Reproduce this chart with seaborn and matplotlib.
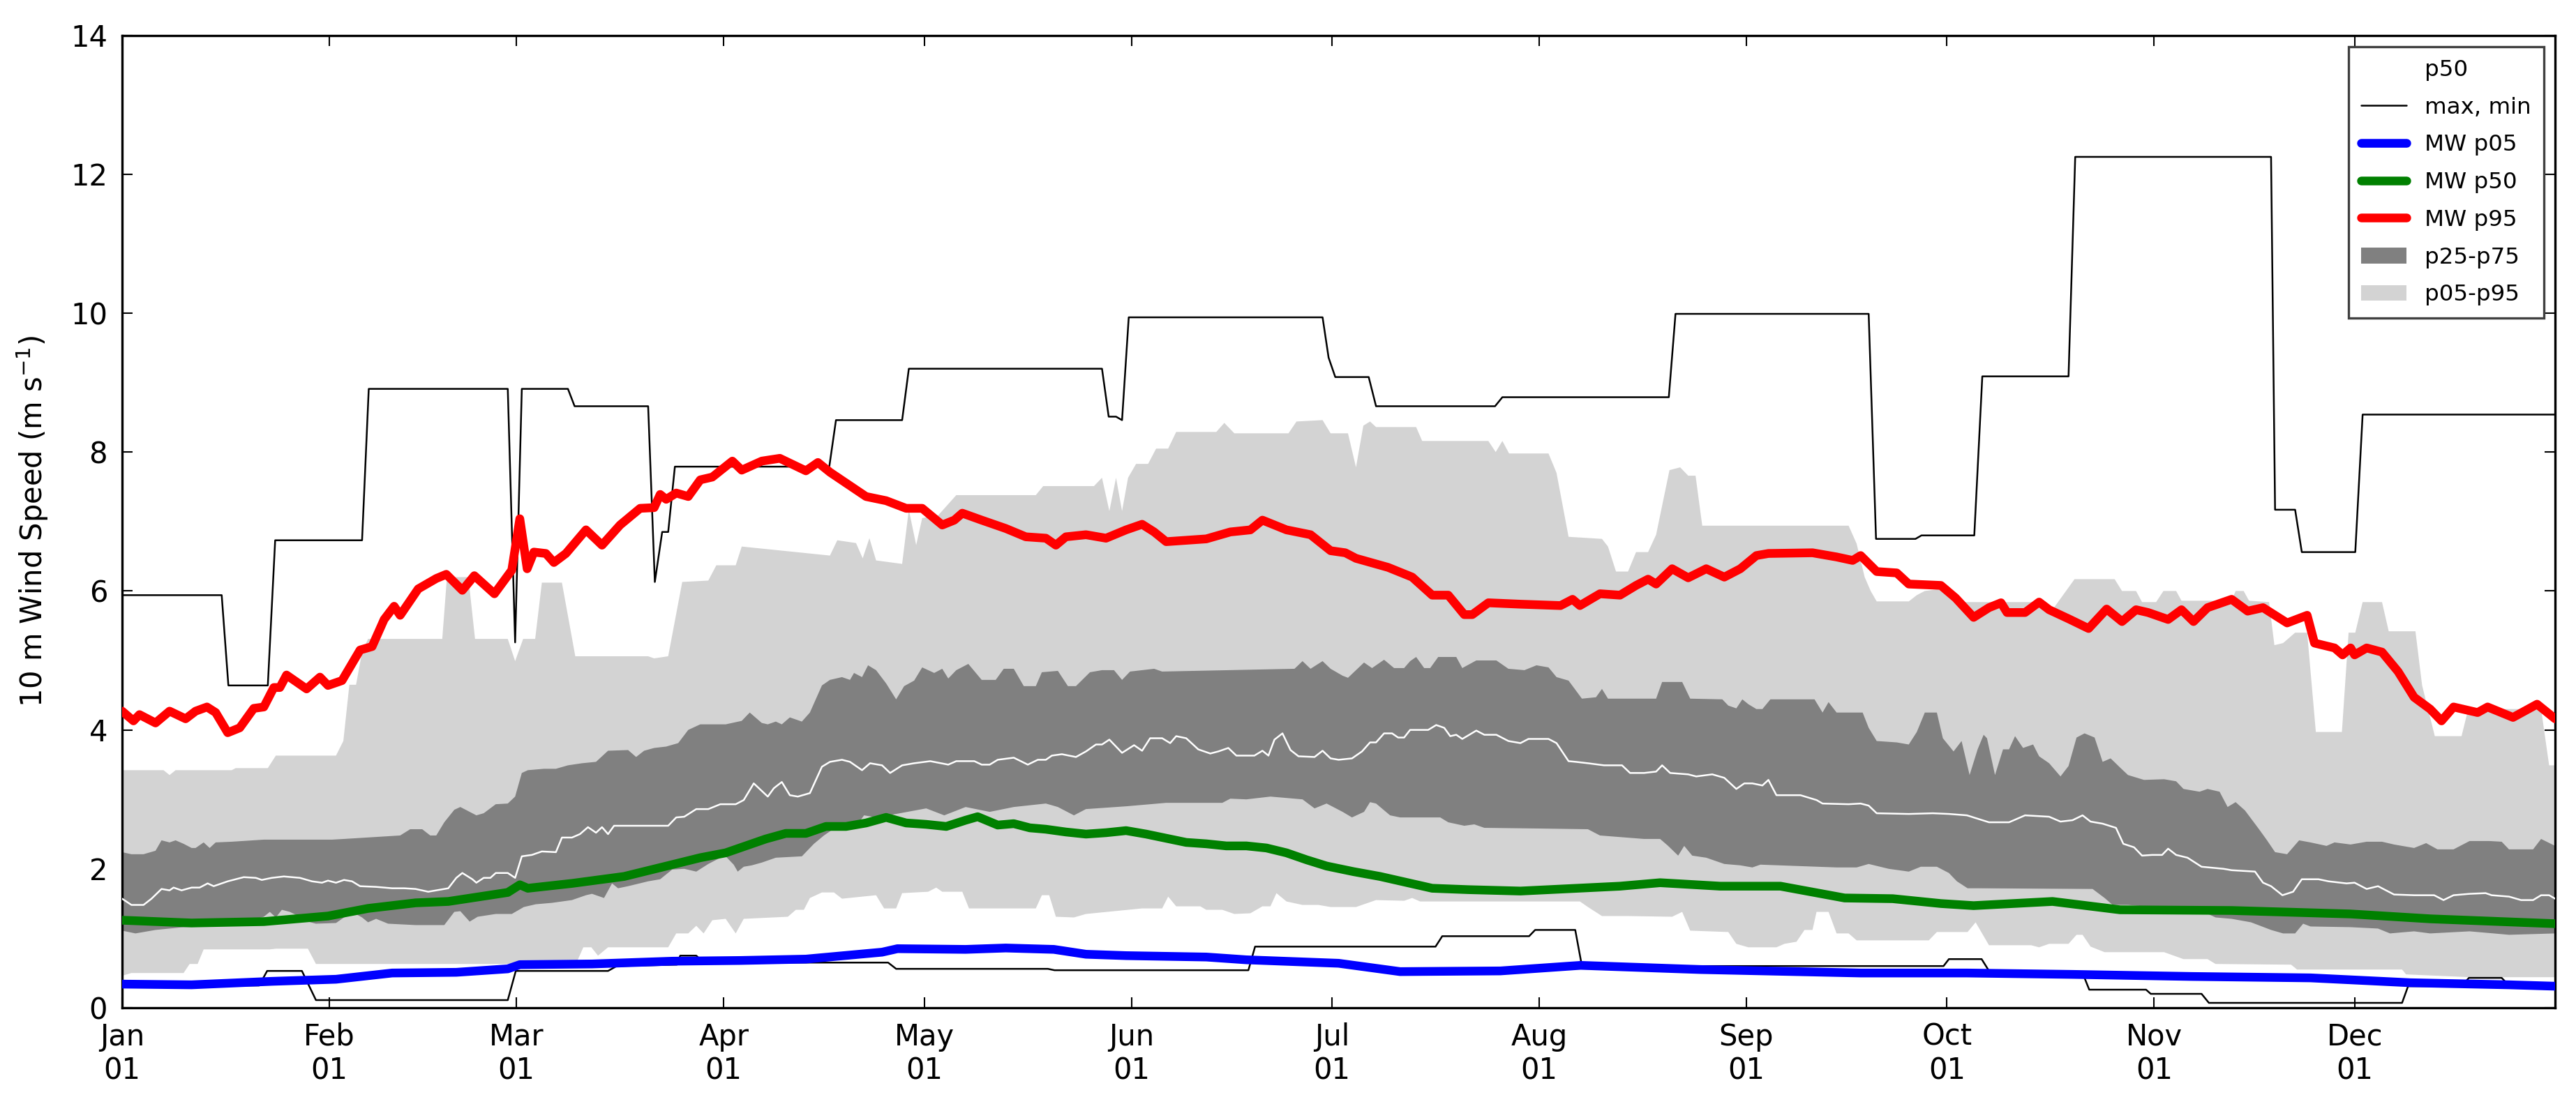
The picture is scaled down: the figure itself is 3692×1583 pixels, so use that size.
import numpy as np
import pandas as pd
import matplotlib
matplotlib.use("Agg")
import matplotlib.pyplot as plt
import matplotlib.dates as mdates
from matplotlib.lines import Line2D
from matplotlib.patches import Patch
import seaborn as sns

YEAR_START = pd.Timestamp("2015-01-01")

# every series: (days since Jan 01, wind speed m/s)

wind_max = [(0, 5.94), (14.9, 5.94), (15.9, 4.64), (21.8, 4.64), (22.9, 6.73), (35.9, 6.73),
            (36.9, 8.91), (57.7, 8.91), (58.8, 5.26), (59.8, 8.91), (66.7, 8.91), (67.7, 8.66),
            (78.7, 8.66), (79.7, 6.13), (80.8, 6.85), (81.7, 6.85), (82.7, 7.79), (105.8, 7.79),
            (106.8, 8.46), (116.7, 8.46), (117.7, 9.2), (146.6, 9.2), (147.6, 8.51), (148.7, 8.51),
            (149.6, 8.46), (150.6, 9.94), (179.6, 9.94), (180.5, 9.36), (181.5, 9.08), (186.5, 9.08),
            (187.6, 8.66), (205.4, 8.66), (206.5, 8.79), (231.4, 8.79), (232.4, 9.99), (261.3, 9.99),
            (262.4, 6.75), (268.3, 6.75), (269.2, 6.8), (277.1, 6.8), (278.3, 9.09), (291.2, 9.09),
            (292.2, 12.25), (321.5, 12.25), (322.1, 7.17), (325.1, 7.17), (326.1, 6.56), (334.1, 6.56),
            (335.2, 8.54), (364, 8.54)]

wind_min = [(0, 0.32), (20.5, 0.32), (21.7, 0.53), (26.9, 0.53), (29.0, 0.11), (57.7, 0.11),
            (58.9, 0.53), (72.7, 0.53), (74, 0.6), (83, 0.62), (83.5, 0.75), (85.9, 0.75),
            (87, 0.65), (114.6, 0.65), (115.8, 0.56), (138.5, 0.56), (139.5, 0.54), (168.5, 0.54),
            (169.5, 0.88), (196.5, 0.88), (197.5, 1.03), (210.5, 1.03), (211.4, 1.12), (217.4, 1.12),
            (218.4, 0.6), (272.5, 0.6), (273.3, 0.7), (278.2, 0.7), (279.5, 0.5), (293.3, 0.5),
            (294.3, 0.26), (302.8, 0.26), (303.5, 0.2), (311.1, 0.2), (312.2, 0.07), (341.1, 0.07),
            (342, 0.31), (350, 0.31), (351.1, 0.43), (356, 0.43), (357, 0.33), (364, 0.33)]

mw_p05 = [(0, 0.34), (10.4, 0.33), (22.4, 0.38), (32, 0.41), (40.4, 0.5), (50, 0.51), (57.7, 0.56),
          (59.5, 0.62), (70.3, 0.63), (82.3, 0.67), (92.4, 0.68), (102.3, 0.7), (113.7, 0.8),
          (116, 0.85), (126.2, 0.84), (132.2, 0.86), (139.4, 0.84), (144.2, 0.77), (150.2, 0.75),
          (162.2, 0.73), (168.2, 0.69), (182, 0.64), (191.2, 0.52), (206.2, 0.53), (218.2, 0.61),
          (236.1, 0.55), (260.1, 0.5), (276, 0.5), (291.8, 0.48), (309.6, 0.45), (327.4, 0.43),
          (342.3, 0.36), (357.1, 0.33), (364, 0.31)]

mw_p50 = [(0, 1.26), (10.4, 1.22), (21.2, 1.24), (30.8, 1.32), (36.8, 1.43), (43.9, 1.51),
          (48.8, 1.53), (57.7, 1.66), (59.5, 1.77), (60.7, 1.72), (67.3, 1.79), (75.1, 1.89),
          (82.3, 2.06), (86.5, 2.16), (90.3, 2.23), (93.3, 2.33), (96.3, 2.43), (99.3, 2.51),
          (102.3, 2.51), (105.3, 2.61), (108.3, 2.61), (111.3, 2.66), (114.3, 2.74), (117.3, 2.66),
          (120.3, 2.64), (123.3, 2.61), (126.2, 2.7), (128, 2.75), (131, 2.63), (133.4, 2.65),
          (135.8, 2.59), (138.2, 2.57), (141.2, 2.53), (144.2, 2.5), (147.2, 2.52), (150.2, 2.55),
          (153.2, 2.5), (156.2, 2.44), (159.2, 2.38), (162.2, 2.36), (165.2, 2.33), (168.2, 2.33),
          (171.2, 2.3), (174.2, 2.23), (177.2, 2.13), (180.2, 2.04), (184.2, 1.96),
          (188.2, 1.89), (196, 1.72), (201.4, 1.7), (209.2, 1.68), (224.1, 1.75), (230.1, 1.8),
          (239.1, 1.75), (248.1, 1.75), (257.7, 1.58), (264.9, 1.57), (272.1, 1.5), (277, 1.47),
          (288.8, 1.53), (298.9, 1.41), (315.6, 1.4), (333.4, 1.35), (345.3, 1.28), (364, 1.21)]

mw_p95 = [(0, 4.27), (1.7, 4.13), (2.6, 4.22), (5, 4.1), (7.1, 4.27), (9.5, 4.16), (11, 4.27),
          (12.7, 4.33), (14, 4.25), (15.8, 3.96), (17.6, 4.03), (19.7, 4.31), (21.2, 4.33),
          (22.7, 4.61), (23.6, 4.61), (24.6, 4.79), (27.6, 4.59), (29.6, 4.76), (30.8, 4.64),
          (32.9, 4.71), (35.6, 5.15), (37.4, 5.2), (39.2, 5.59), (40.7, 5.78), (41.6, 5.65),
          (44.3, 6.03), (47, 6.18), (48.5, 6.24), (50.9, 6.01), (52.7, 6.22), (55.7, 5.96),
          (58.3, 6.3), (59.5, 7.04), (60.6, 6.32), (61.6, 6.56), (63.4, 6.54), (64.6, 6.41),
          (66.4, 6.54), (69.4, 6.88), (71.8, 6.66), (74.5, 6.95), (77.5, 7.19), (79.6, 7.2),
          (80.5, 7.39), (81.4, 7.32), (82.9, 7.41), (84.7, 7.36), (86.5, 7.6), (88.3, 7.64),
          (91.3, 7.87), (92.7, 7.74), (95.7, 7.87), (98.4, 7.91), (102.3, 7.73), (104.1, 7.85),
          (105.9, 7.71), (111.3, 7.36), (114.3, 7.3), (117.3, 7.19), (119.7, 7.19), (122.7, 6.95),
          (124.5, 7.02), (125.7, 7.12), (128.6, 7.02), (132.2, 6.9), (135.2, 6.78), (138.2, 6.76),
          (139.7, 6.66), (141.2, 6.78), (144.2, 6.81), (147.2, 6.76), (150.2, 6.88), (152.6, 6.96),
          (154.4, 6.85), (156.2, 6.71), (162.2, 6.75), (165.8, 6.85), (168.8, 6.88), (170.6, 7.02),
          (174.2, 6.88), (177.8, 6.81), (180.8, 6.58), (183, 6.55), (184.6, 6.47), (189.4, 6.34),
          (193, 6.2), (196, 5.94), (198.4, 5.94), (200.8, 5.66), (202, 5.66), (204.4, 5.83),
          (209.2, 5.81), (215.2, 5.79), (217, 5.88), (218.1, 5.79), (221.1, 5.96), (224.1, 5.94),
          (226.5, 6.08), (228.3, 6.17), (229.5, 6.1), (231.9, 6.32), (234.3, 6.19), (237, 6.32),
          (239.7, 6.2), (242.1, 6.32), (244.5, 6.51), (246.3, 6.54), (252.9, 6.55), (256.5, 6.49),
          (258.9, 6.44), (260.1, 6.51), (262.5, 6.28), (265.5, 6.26), (267.3, 6.1), (272.1, 6.08),
          (274.3, 5.9), (277, 5.62), (279.3, 5.76), (281.1, 5.83), (282, 5.69), (284.7, 5.69),
          (286.8, 5.84), (288.3, 5.73), (291.2, 5.6), (294.2, 5.46), (296.9, 5.74), (299.2, 5.56),
          (301.3, 5.73), (303.1, 5.69), (306.1, 5.59), (308.1, 5.73), (309.9, 5.56), (312, 5.76),
          (315.6, 5.88), (318, 5.71), (320.3, 5.76), (323.9, 5.54), (326.9, 5.65), (328, 5.25),
          (331, 5.18), (332.2, 5.08), (333.4, 5.18), (334, 5.08), (335.8, 5.18), (338.1, 5.12),
          (340.5, 4.84), (342.9, 4.47), (345.3, 4.3), (347, 4.13), (348.8, 4.33), (352.4, 4.25),
          (353.9, 4.33), (357.7, 4.18), (361.3, 4.37), (364, 4.16)]

p95 = [(0, 3.42), (6.2, 3.42), (7.1, 3.35), (8, 3.42), (16.4, 3.42), (17, 3.45), (21.8, 3.45),
       (23, 3.63), (32, 3.63), (33.1, 3.84), (34, 4.65), (35, 4.65), (35.9, 5.12), (36.8, 5.31),
       (47.9, 5.31), (48.6, 6.2), (51.8, 6.2), (52.8, 5.31), (57.7, 5.31), (58.8, 4.99), (60, 5.31),
       (61.8, 5.31), (62.8, 6.12), (65.8, 6.12), (67.8, 5.06), (78.7, 5.06), (79.6, 5.03),
       (81.7, 5.06), (83.8, 6.13), (87.7, 6.15), (88.9, 6.37), (91.8, 6.37), (92.7, 6.64),
       (105.9, 6.51), (107, 6.73), (109.8, 6.69), (110.8, 6.47), (111.8, 6.76), (112.8, 6.44),
       (116.7, 6.39), (117.7, 7.17), (118.8, 6.66), (119.7, 7.05), (122.1, 7.09), (124.8, 7.38),
       (136.7, 7.38), (137.8, 7.51), (145.4, 7.51), (146.6, 7.63), (147.7, 7.15), (148.7, 7.63),
       (149.6, 7.15), (150.5, 7.63), (151.7, 7.83), (153.5, 7.83), (154.7, 8.05), (156.5, 8.05),
       (157.7, 8.29), (163.7, 8.29), (164.9, 8.42), (166.4, 8.27), (174.5, 8.27), (175.7, 8.44),
       (179.6, 8.46), (180.8, 8.27), (183.4, 8.27), (184.6, 7.78), (185.7, 8.38), (186.7, 8.44),
       (187.6, 8.36), (193.6, 8.36), (194.5, 8.16), (204.4, 8.16), (205.5, 8.0), (206.5, 8.16),
       (207.5, 7.98), (213.4, 7.98), (214.6, 7.7), (216.4, 6.78), (221.4, 6.75), (222.3, 6.64),
       (223.5, 6.28), (225.3, 6.28), (226.5, 6.56), (228.3, 6.56), (229.5, 6.81), (231.5, 7.74),
       (233.1, 7.78), (234.3, 7.66), (235.4, 7.66), (236.4, 6.94), (258.3, 6.94), (259.5, 6.68),
       (260.7, 6.2), (261.6, 6.0), (262.5, 5.85), (267.3, 5.85), (268.5, 5.94), (269.7, 6.0),
       (272.1, 6.03), (274, 5.84), (287.7, 5.84), (288.8, 5.73), (292.1, 6.17), (298.1, 6.17),
       (299.2, 6.0), (301.3, 6.0), (302.2, 5.84), (304.3, 5.84), (305.4, 6.0), (307.3, 6.0),
       (308.1, 5.86), (315.6, 5.86), (316.2, 6.0), (317.4, 6.0), (318.2, 5.86), (321.2, 5.84),
       (322, 5.22), (323.3, 5.25), (325.1, 5.4), (326.9, 5.4), (328.2, 3.97), (332.1, 3.97),
       (333.1, 5.4), (334.1, 5.4), (335.2, 5.84), (338.1, 5.84), (339.1, 5.42), (343.1, 5.42),
       (344.1, 4.64), (346, 3.91), (350, 3.91), (351, 4.3), (361.9, 4.3), (363.1, 3.49), (364, 3.49)]

p05 = [(0, 0.46), (1.4, 0.5), (9.2, 0.5), (10.1, 0.63), (11.3, 0.63), (12.2, 0.84), (22.1, 0.84),
       (23, 0.85), (27.8, 0.85), (29, 0.63), (67.9, 0.63), (69, 0.87), (70.2, 0.87), (71.2, 0.75),
       (72.7, 0.87), (81.7, 0.87), (82.9, 1.07), (84.7, 1.07), (85.9, 1.18), (87, 1.07),
       (88.3, 1.26), (90.3, 1.28), (91.8, 1.07), (93, 1.28), (99.6, 1.31), (100.8, 1.41),
       (102, 1.41), (102.9, 1.58), (104.7, 1.66), (106.5, 1.66), (107.7, 1.57), (112.8, 1.62),
       (114, 1.43), (115.8, 1.43), (116.7, 1.65), (120.6, 1.67), (121.8, 1.73), (122.7, 1.67),
       (125.7, 1.67), (126.7, 1.43), (136.7, 1.43), (137.6, 1.62), (138.7, 1.62), (139.7, 1.31),
       (142.4, 1.3), (144.2, 1.35), (152.6, 1.43), (155.6, 1.43), (156.5, 1.6), (157.7, 1.46),
       (161.3, 1.46), (162.2, 1.41), (164.6, 1.41), (166.4, 1.35), (168.8, 1.36), (170.6, 1.46),
       (171.8, 1.46), (172.7, 1.65), (174.2, 1.53), (176.6, 1.48), (179, 1.48), (180.8, 1.45),
       (184.6, 1.45), (187.6, 1.55), (191.8, 1.54), (193, 1.58), (194.2, 1.53), (218.1, 1.53),
       (219.3, 1.45), (221.4, 1.32), (225.3, 1.32), (231.9, 1.31), (233.4, 1.38), (234.6, 1.11),
       (240.3, 1.09), (241.5, 0.92), (243.3, 0.87), (247.5, 0.87), (248.7, 0.92), (250.5, 0.95),
       (251.7, 1.12), (252.9, 1.12), (253.5, 1.38), (255.3, 1.38), (256.5, 1.07), (258.3, 1.07),
       (259.5, 0.97), (270.3, 0.97), (271.5, 1.09), (276.1, 1.09), (277.3, 1.23), (279.3, 0.9),
       (285.6, 0.9), (286.8, 0.87), (288.3, 0.92), (291.2, 0.92), (292.4, 1.05), (293.3, 1.05),
       (294.5, 0.88), (296.6, 0.8), (305.5, 0.8), (308.4, 0.7), (312, 0.7), (313.2, 0.63),
       (324.5, 0.62), (325.4, 0.55), (341.1, 0.55), (341.7, 0.48), (351.2, 0.44), (364, 0.44)]

p75 = [(0, 2.24), (1.4, 2.21), (3.2, 2.21), (5, 2.26), (5.9, 2.41), (7.1, 2.38), (8, 2.41),
       (9.2, 2.36), (10.4, 2.3), (11, 2.3), (12.2, 2.38), (13.1, 2.3), (14, 2.38), (16.4, 2.39),
       (21.2, 2.42), (31.4, 2.42), (33.2, 2.43), (41.6, 2.48), (43.1, 2.57), (44.9, 2.57),
       (46.1, 2.48), (47, 2.48), (48.2, 2.67), (49.7, 2.85), (50.6, 2.89), (51.8, 2.83), (53, 2.77),
       (54.1, 2.8), (55.9, 2.93), (57.7, 2.94), (58.8, 3.04), (59.8, 3.38), (60.7, 3.42),
       (63.1, 3.44), (64.9, 3.44), (66.7, 3.49), (68.8, 3.52), (70.9, 3.54), (72.7, 3.7),
       (75.7, 3.71), (76.9, 3.61), (78.1, 3.7), (79.6, 3.74), (81.4, 3.76), (83.2, 3.81),
       (84.7, 4.0), (86.5, 4.08), (90.3, 4.08), (92.7, 4.13), (93.9, 4.25), (95.7, 4.1),
       (96.6, 4.08), (97.8, 4.12), (98.7, 4.08), (99.9, 4.18), (101.7, 4.12), (102.9, 4.25),
       (104.7, 4.64), (105.9, 4.72), (107.7, 4.76), (108.9, 4.72), (109.5, 4.82), (110.7, 4.76),
       (111.6, 4.93), (112.8, 4.86), (114.3, 4.67), (115.8, 4.44), (117, 4.63), (118.5, 4.71),
       (119.7, 4.9), (121.5, 4.82), (122.7, 4.88), (123.6, 4.74), (124.8, 4.86), (126.6, 4.95),
       (128.6, 4.72), (130.7, 4.72), (131.9, 4.88), (133.4, 4.88), (134.9, 4.63), (136.7, 4.63),
       (137.6, 4.83), (140, 4.85), (141.5, 4.63), (142.7, 4.63), (144.8, 4.83), (146.6, 4.86),
       (148.4, 4.86), (149.6, 4.72), (150.8, 4.84), (154.4, 4.88), (155.6, 4.84), (175.4, 4.88),
       (176.6, 4.99), (177.8, 4.88), (179.6, 4.99), (180.8, 4.88), (182.6, 4.78), (183.4, 4.75),
       (185.8, 4.97), (187, 4.89), (188.8, 5.01), (190.3, 4.89), (191.8, 4.89), (192.7, 4.99),
       (193.6, 5.05), (194.8, 4.89), (195.7, 4.89), (196.9, 5.05), (199.6, 5.05), (200.5, 4.89),
       (202.6, 5.0), (205.6, 5.0), (207.4, 4.88), (209.8, 4.86), (211.6, 4.93), (213.4, 4.9),
       (214.6, 4.76), (216.4, 4.71), (218.4, 4.45), (220.5, 4.47), (221.4, 4.59), (222.3, 4.45),
       (229.5, 4.45), (230.4, 4.69), (233.4, 4.69), (234.6, 4.45), (239.4, 4.44), (240.3, 4.35),
       (241.5, 4.31), (242.4, 4.44), (243.3, 4.37), (244.5, 4.3), (245.4, 4.3), (246.6, 4.44),
       (253.2, 4.44), (254.4, 4.25), (255.3, 4.4), (256.5, 4.25), (260.4, 4.25), (261.3, 4.03),
       (262.5, 3.84), (265.5, 3.82), (267.3, 3.79), (268.5, 3.97), (269.7, 4.25), (271.5, 4.25),
       (272.4, 3.88), (274, 3.69), (275.2, 3.84), (276.4, 3.35), (277.6, 3.72), (278.5, 3.93),
       (279, 3.88), (280.2, 3.35), (281.4, 3.72), (282.3, 3.72), (283.2, 3.91), (284.4, 3.74),
       (285.9, 3.79), (286.8, 3.62), (288.3, 3.52), (290, 3.33), (291.2, 3.48), (292.4, 3.89),
       (293.6, 3.95), (295.1, 3.89), (296.3, 3.54), (297.5, 3.59), (299, 3.45), (300.1, 3.35),
       (302.5, 3.28), (305.5, 3.29), (307.3, 3.26), (308.4, 3.15), (310.8, 3.11), (312, 3.15),
       (313.8, 3.11), (315, 2.89), (316.2, 2.96), (317.6, 2.84), (319.7, 2.57), (320.9, 2.41),
       (322.1, 2.24), (323.9, 2.21), (325.7, 2.41), (327.4, 2.38), (329.8, 2.33), (331, 2.38),
       (333.4, 2.35), (335.8, 2.39), (338.1, 2.39), (339.9, 2.35), (342.9, 2.3), (344.7, 2.37),
       (346.4, 2.28), (348.8, 2.28), (351.2, 2.4), (354.2, 2.4), (356, 2.39), (357.1, 2.28),
       (360.7, 2.28), (361.9, 2.43), (364, 2.33)]

p25 = [(0, 1.11), (2, 1.07), (5, 1.12), (9.2, 1.16), (13.4, 1.17), (16.4, 1.19), (21.2, 1.31),
       (22.1, 1.38), (23, 1.3), (23.9, 1.41), (25.1, 1.38), (26.6, 1.31), (27.8, 1.24), (29, 1.21),
       (32, 1.22), (34.4, 1.38), (35.9, 1.3), (36.8, 1.23), (38, 1.28), (39.8, 1.21), (43.9, 1.19),
       (48.2, 1.19), (49.7, 1.38), (50.6, 1.39), (52, 1.24), (53.2, 1.31), (55.9, 1.35),
       (58.3, 1.35), (60.1, 1.45), (61.9, 1.49), (64.3, 1.51), (67.3, 1.55), (69.4, 1.62),
       (70.3, 1.64), (72.1, 1.58), (73.3, 1.79), (74.2, 1.72), (75.7, 1.75), (78.7, 1.82),
       (80.5, 1.85), (82.3, 1.99), (84.1, 2.0), (85.9, 1.96), (87.7, 2.07), (89.5, 2.16),
       (90.3, 2.18), (91.5, 2.06), (92.1, 1.96), (93, 2.03), (94.2, 2.05), (95.7, 2.09),
       (97.8, 2.16), (101.7, 2.18), (103.5, 2.36), (105, 2.48), (106.8, 2.6), (109.5, 2.57),
       (111, 2.77), (112.8, 2.74), (115.8, 2.79), (120.3, 2.87), (123, 2.77), (126.2, 2.89),
       (129.8, 2.82), (133.4, 2.89), (138.2, 2.94), (140, 2.89), (142.4, 2.77), (144.2, 2.86),
       (150.2, 2.9), (156.2, 2.95), (164.6, 2.95), (165.8, 3.01), (168.2, 3.0), (171.8, 3.04),
       (176.6, 3.0), (178.4, 2.87), (180.2, 2.94), (182.6, 2.82), (184, 2.74), (185.8, 2.82),
       (186.7, 2.96), (187.6, 2.94), (189.7, 2.77), (191.2, 2.74), (197.2, 2.74), (198.4, 2.67),
       (200.8, 2.62), (202.3, 2.64), (203.8, 2.59), (212.2, 2.58), (219.3, 2.57), (221.1, 2.48),
       (227.7, 2.43), (230.1, 2.43), (231.3, 2.33), (232.8, 2.19), (233.7, 2.33), (234.9, 2.19),
       (237, 2.16), (239.7, 2.07), (242.1, 2.05), (243.9, 2.02), (245.1, 2.06), (256.5, 2.02),
       (259.5, 2.02), (261.3, 2.07), (264.3, 2.0), (267.3, 1.96), (269.1, 2.03), (271.5, 2.03),
       (273.3, 1.94), (274.5, 1.82), (276.1, 1.72), (277.6, 1.72), (294.8, 1.71), (296.6, 1.58),
       (297.8, 1.48), (300.1, 1.48), (303.7, 1.45), (309.6, 1.45), (311.4, 1.38), (313.2, 1.3),
       (315.6, 1.28), (318.5, 1.23), (321.5, 1.12), (323.3, 1.07), (325.1, 1.07), (326.3, 1.21),
       (327.4, 1.17), (333.4, 1.16), (337.5, 1.14), (339.3, 1.07), (342.9, 1.1), (345.3, 1.07),
       (351.2, 1.1), (354.8, 1.07), (357.1, 1.05), (364, 1.07)]

p50 = [(0, 1.57), (1.4, 1.48), (3.2, 1.48), (4.4, 1.57), (5.9, 1.71), (7.1, 1.69), (7.7, 1.73),
       (8.9, 1.69), (10.4, 1.73), (11.6, 1.73), (12.8, 1.79), (13.7, 1.75), (15.8, 1.82),
       (18.2, 1.88), (20, 1.87), (20.9, 1.84), (22.4, 1.87), (24.2, 1.89), (26.6, 1.87),
       (28.4, 1.82), (29.9, 1.8), (30.8, 1.83), (32, 1.8), (33.2, 1.84), (34.4, 1.82), (35.6, 1.75),
       (38, 1.74), (40.4, 1.72), (42.2, 1.72), (43.9, 1.71), (45.8, 1.67), (47.6, 1.7), (48.8, 1.72),
       (50, 1.87), (50.9, 1.94), (52.4, 1.85), (53, 1.8), (54.1, 1.87), (55.1, 1.87), (55.9, 1.94),
       (57.7, 1.94), (58.8, 1.87), (59.8, 2.18), (61.3, 2.2), (62.8, 2.25), (64.9, 2.24),
       (65.8, 2.45), (67.3, 2.45), (68.5, 2.5), (69.7, 2.6), (70.9, 2.52), (71.8, 2.6), (72.7, 2.5),
       (73.6, 2.62), (81.7, 2.62), (82.9, 2.74), (84.1, 2.75), (85.9, 2.86), (87.7, 2.86),
       (89.5, 2.93), (91.8, 2.93), (93, 2.99), (94.5, 3.23), (96.6, 3.04), (97.5, 3.16),
       (98.7, 3.25), (99.9, 3.06), (101.1, 3.04), (102.9, 3.09), (104.7, 3.47), (105.9, 3.54),
       (107.7, 3.57), (108.9, 3.54), (110.7, 3.42), (111.9, 3.52), (113.7, 3.49), (114.9, 3.38),
       (116.7, 3.49), (118.5, 3.52), (120.9, 3.55), (123.6, 3.5), (124.8, 3.55), (127.5, 3.55),
       (128.6, 3.5), (129.8, 3.5), (131, 3.57), (133.4, 3.6), (135.5, 3.5), (137, 3.57),
       (138.2, 3.57), (139.1, 3.63), (140.6, 3.65), (142.7, 3.61), (144.2, 3.69), (145.7, 3.79),
       (146.6, 3.79), (147.7, 3.86), (149.6, 3.67), (151.4, 3.78), (152.6, 3.7), (153.8, 3.88),
       (155.6, 3.88), (156.8, 3.81), (157.7, 3.91), (159.2, 3.88), (161, 3.72), (162.8, 3.66),
       (164, 3.69), (165.5, 3.74), (166.7, 3.63), (169.4, 3.63), (170.6, 3.7), (171.5, 3.63),
       (172.4, 3.86), (173.6, 3.95), (174.8, 3.71), (176, 3.62), (178.4, 3.61), (179.6, 3.7),
       (180.8, 3.59), (182, 3.57), (184, 3.59), (185.5, 3.69), (186.7, 3.82), (187.6, 3.82),
       (188.8, 3.95), (190, 3.95), (190.9, 3.89), (191.8, 3.89), (192.7, 4.0), (195.4, 4.0),
       (196.6, 4.07), (197.8, 4.03), (198.7, 3.91), (199.6, 3.93), (200.5, 3.87), (202.6, 3.99),
       (203.8, 3.93), (205.6, 3.93), (207.4, 3.84), (209.2, 3.81), (210.4, 3.87), (213.4, 3.87),
       (214.6, 3.81), (216.4, 3.55), (217.5, 3.54), (219.3, 3.52), (221.7, 3.49), (224.4, 3.49),
       (225.6, 3.38), (227.7, 3.38), (229.5, 3.4), (230.4, 3.49), (231.6, 3.38), (234.3, 3.36),
       (235.5, 3.33), (237.9, 3.36), (239.7, 3.31), (241.5, 3.15), (242.7, 3.23), (243.9, 3.23),
       (245.4, 3.2), (246.3, 3.28), (247.5, 3.06), (251.1, 3.06), (253.5, 2.99), (254.4, 2.94),
       (258.3, 2.93), (260.1, 2.94), (261.3, 2.91), (262.5, 2.8), (267.3, 2.79), (270.9, 2.8),
       (273.3, 2.79), (276, 2.77), (279.3, 2.67), (282.3, 2.67), (284.7, 2.77), (288.3, 2.75),
       (290, 2.68), (291.8, 2.7), (293.3, 2.77), (294.5, 2.68), (296.3, 2.65), (298.3, 2.59),
       (299.4, 2.36), (301, 2.31), (302.2, 2.19), (303.7, 2.2), (305.2, 2.2), (306.1, 2.29),
       (307.3, 2.2), (309, 2.16), (311.1, 2.03), (314.4, 2.0), (315.6, 1.98), (319.1, 1.96),
       (320.3, 1.8), (321.5, 1.75), (323.2, 1.62), (324.8, 1.67), (326.1, 1.85), (328.6, 1.85),
       (330.1, 1.82), (332.8, 1.79), (334, 1.8), (335.8, 1.71), (337.5, 1.75), (339.9, 1.63),
       (342.9, 1.62), (345.9, 1.62), (347.3, 1.55), (348.8, 1.62), (351.2, 1.64), (353.6, 1.65),
       (354.5, 1.62), (357.1, 1.6), (358.9, 1.55), (360.7, 1.55), (361.9, 1.62), (363.1, 1.62),
       (364, 1.57)]

legend_labels = ["p50", "max, min", "MW p05", "MW p50", "MW p95", "p25-p75", "p05-p95"]

BASE = mdates.date2num(YEAR_START.to_pydatetime())


def frame(pairs):
    df = pd.DataFrame(pairs, columns=["day", "speed"])
    df["date"] = BASE + df["day"]
    return df


def band(ax, upper, lower, color, z):
    up, lo = frame(upper), frame(lower)
    xs = np.r_[up["date"].values, lo["date"].values[::-1]]
    ys = np.r_[up["speed"].values, lo["speed"].values[::-1]]
    ax.fill(xs, ys, color=color, lw=0, zorder=z)


def line(ax, pairs, color, lw, z):
    sns.lineplot(data=frame(pairs), x="date", y="speed", ax=ax, color=color, lw=lw,
                 sort=False, estimator=None, legend=False, zorder=z)


sns.set_style("ticks", {"axes.edgecolor": "black", "xtick.color": "black", "ytick.color": "black",
                        "text.color": "black", "axes.labelcolor": "black"})
plt.rcParams["font.family"] = ["DejaVu Sans"]

fig, ax = plt.subplots(figsize=(3692 / 300, 1583 / 300), dpi=300)
fig.subplots_adjust(left=0.0474, right=0.9919, top=0.968, bottom=0.0872)

band(ax, p95, p05, "lightgrey", 1)
band(ax, p75, p25, "grey", 2)
line(ax, p50, "white", 0.6, 3)
line(ax, wind_max, "black", 0.6, 3)
line(ax, wind_min, "black", 0.6, 3)
line(ax, mw_p05, "blue", 3, 4)
line(ax, mw_p50, "green", 3, 4)
line(ax, mw_p95, "red", 3, 4)

ax.set_xlim(BASE, BASE + 364)
ax.set_ylim(0, 14)
ax.set_yticks(range(0, 15, 2))
ax.xaxis.set_major_locator(mdates.MonthLocator())
ax.xaxis.set_major_formatter(mdates.DateFormatter("%b\n%d"))
ax.tick_params(direction="in", top=True, right=True, length=3.6, width=0.5, labelsize=10, pad=5)
for s in ax.spines.values():
    s.set_linewidth(0.8)
ax.set_xlabel("")
ax.set_ylabel("10 m Wind Speed (m s$^{-1}$)", fontsize=10, labelpad=7)

handles = [Line2D([], [], color="white", lw=0.6),
           Line2D([], [], color="black", lw=0.6),
           Line2D([], [], color="blue", lw=3),
           Line2D([], [], color="green", lw=3),
           Line2D([], [], color="red", lw=3),
           Patch(facecolor="grey", edgecolor="none"),
           Patch(facecolor="lightgrey", edgecolor="none")]
leg = ax.legend(handles, legend_labels, loc="upper right", fontsize=7.8, fancybox=False,
                framealpha=1, edgecolor="0.25", borderaxespad=0.5, handlelength=2.0,
                borderpad=0.55, labelspacing=0.7)
leg.get_frame().set_linewidth(0.8)

fig.savefig("out.png", dpi=300)
